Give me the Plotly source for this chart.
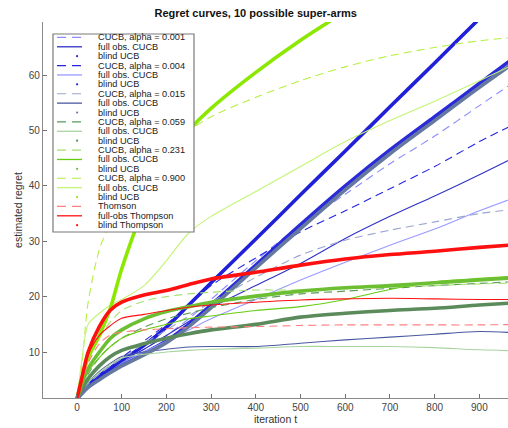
import plotly.graph_objects as go

# iteration grid shared by all curves
t = [0, 10, 25, 50, 75, 100, 150, 200, 250, 300, 400, 500, 600, 700, 800, 900, 1000]

# CUCB (dashed), full-observation CUCB (solid), blind UCB (dots) for each alpha
cucb_0001 = [1.5, 2.6, 3.8, 5.3, 6.6, 8.0, 10.5, 13.0, 16.0, 19.5, 26.5, 33.0, 38.5, 44.0, 49.0, 54.5, 60.0]
full_0001 = [1.5, 2.8, 4.3, 6.0, 7.3, 8.5, 10.5, 13.0, 15.5, 18.0, 22.0, 26.0, 30.5, 34.5, 38.2, 42.0, 46.0]
blind_0001 = [1.5, 2.5, 3.7, 5.2, 6.5, 7.8, 9.8, 12.0, 15.0, 18.5, 25.7, 33.0, 40.0, 46.5, 52.5, 58.5, 64.5]

cucb_0004 = [1.5, 2.8, 4.2, 6.0, 7.5, 9.0, 12.0, 15.0, 18.5, 22.0, 27.0, 31.7, 35.5, 39.5, 43.5, 48.0, 52.0]
full_0004 = [1.5, 2.8, 4.2, 5.8, 7.0, 8.0, 10.0, 12.0, 14.0, 16.0, 19.5, 23.0, 26.2, 29.3, 32.2, 35.5, 38.5]
blind_0004 = [1.5, 2.6, 4.0, 5.6, 7.1, 8.5, 11.2, 14.5, 18.5, 22.5, 30.4, 38.4, 46.3, 54.3, 62.2, 70.2, 78.1]

cucb_0015 = [1.5, 2.8, 4.2, 6.0, 7.5, 8.8, 11.5, 14.0, 16.5, 19.0, 23.5, 27.5, 30.2, 32.0, 33.5, 35.0, 36.0]
full_0015 = [1.5, 3.0, 4.5, 6.5, 8.0, 9.2, 10.0, 10.5, 10.9, 11.0, 11.0, 11.6, 12.2, 12.7, 13.2, 13.7, 13.4]
blind_0015 = [1.5, 2.4, 3.6, 5.0, 6.3, 7.5, 9.5, 11.7, 14.6, 18.0, 25.2, 32.3, 39.3, 45.8, 51.8, 57.8, 63.5]

cucb_0059 = [1.5, 3.5, 6.0, 9.0, 11.0, 12.5, 14.5, 16.0, 17.0, 18.0, 19.5, 20.5, 21.0, 21.5, 22.0, 22.4, 22.8]
full_0059 = [1.5, 3.0, 4.5, 6.3, 7.8, 8.9, 9.6, 10.0, 10.3, 10.5, 10.7, 11.0, 11.0, 11.0, 10.8, 10.4, 10.2]
blind_0059 = [1.5, 3.2, 5.2, 7.5, 9.2, 10.3, 11.5, 12.5, 13.3, 14.0, 15.0, 16.3, 17.0, 17.5, 17.9, 18.5, 19.0]

cucb_0231 = [1.5, 4.5, 8.5, 12.5, 15.5, 17.5, 19.2, 20.0, 20.5, 20.8, 21.2, 21.2, 21.4, 21.7, 22.0, 22.3, 22.5]
full_0231 = [1.5, 4.0, 6.5, 9.0, 11.0, 12.5, 14.0, 15.0, 16.0, 16.5, 17.5, 18.2, 19.5, 21.3, 22.7, 23.3, 23.8]
blind_0231 = [1.5, 4.0, 7.0, 10.0, 12.5, 14.0, 16.0, 17.3, 18.2, 19.0, 20.1, 21.0, 21.6, 22.0, 22.5, 23.0, 23.5]

cucb_0900 = [1.5, 7.0, 19.0, 28.5, 33.5, 37.5, 43.0, 47.0, 50.0, 52.5, 56.0, 59.0, 61.5, 63.5, 65.0, 66.2, 67.0]
full_0900 = [1.5, 8.0, 15.0, 17.0, 18.5, 19.5, 22.0, 26.5, 31.5, 34.5, 39.0, 43.5, 48.0, 51.8, 55.3, 59.0, 62.8]
blind_0900 = [1.5, 5.0, 9.0, 13.0, 18.0, 25.0, 36.0, 44.0, 50.0, 54.0, 60.5, 66.3, 71.5, 76.5, 81.5, 86.5, 91.5]

# Thompson sampling variants
thompson = [1.5, 4.5, 8.0, 11.5, 13.1, 13.6, 14.0, 14.2, 14.4, 14.5, 14.6, 14.8, 14.9, 14.9, 14.9, 14.9, 15.0]
full_thompson = [1.5, 5.0, 9.5, 13.0, 14.8, 16.1, 16.8, 17.5, 18.1, 18.5, 19.0, 19.4, 19.6, 19.7, 19.6, 19.5, 19.5]
blind_thompson = [1.5, 5.0, 10.0, 14.6, 17.6, 19.0, 20.3, 21.1, 22.2, 23.2, 24.4, 25.7, 26.8, 27.6, 28.2, 28.9, 29.5]

x_ticks = [0, 100, 200, 300, 400, 500, 600, 700, 800, 900]
y_ticks = [10, 20, 30, 40, 50, 60]

labels = [
    "CUCB, alpha = 0.001", "full obs. CUCB", "blind UCB",
    "CUCB, alpha = 0.004", "full obs. CUCB", "blind UCB",
    "CUCB, alpha = 0.015", "full obs. CUCB", "blind UCB",
    "CUCB, alpha = 0.059", "full obs. CUCB", "blind UCB",
    "CUCB, alpha = 0.231", "full obs. CUCB", "blind UCB",
    "CUCB, alpha = 0.900", "full obs. CUCB", "blind UCB",
    "Thomson", "full-obs Thompson", "blind Thompson",
]
series = [
    cucb_0001, full_0001, blind_0001,
    cucb_0004, full_0004, blind_0004,
    cucb_0015, full_0015, blind_0015,
    cucb_0059, full_0059, blind_0059,
    cucb_0231, full_0231, blind_0231,
    cucb_0900, full_0900, blind_0900,
    thompson, full_thompson, blind_thompson,
]
colors = [
    "#8c8cff", "#3030c8", "#2a2ad8",
    "#2525e0", "#9a9aff", "#2020d8",
    "#9aa6cf", "#4a5aa0", "#6478a0",
    "#5a9a5a", "#a8d4a0", "#5b8a5b",
    "#a6e070", "#66cc11", "#6cbf33",
    "#b4f040", "#c4f474", "#8ce800",
    "#ff8080", "#ff1010", "#ff1010",
]
kinds = ["dash", "solid", "dots"] * 7

fig = go.Figure()
for y, c, k in zip(series, colors, kinds):
    if k == "dash":
        line = dict(color=c, width=1.1, dash="8px,5px")
    elif k == "solid":
        line = dict(color=c, width=1.1)
    else:
        line = dict(color=c, width=3.6)
    line.update(shape="spline", smoothing=0.8)
    fig.add_trace(go.Scatter(x=t, y=y, mode="lines", line=line, showlegend=False,
                             hoverinfo="skip"))

W, H = 508, 428
L, R, T, B = 43, 0, 22, 30
PW, PH = W - L - R, H - T - B


def px(x):
    return (x - L) / PW


def py(y):
    return (H - B - y) / PH


# legend box drawn in pixel-based paper coordinates
shapes = [dict(type="rect", xref="paper", yref="paper",
               x0=px(53), x1=px(194), y0=py(232), y1=py(34),
               line=dict(color="#7a7a7a", width=1.2), fillcolor="white", layer="above")]
annotations = []
row0, step = 37.4, 9.39
for i, (lab, c, k) in enumerate(zip(labels, colors, kinds)):
    yy = row0 + i * step
    if k == "dots":
        shapes.append(dict(type="circle", xref="paper", yref="paper",
                           x0=px(76), x1=px(78.2), y0=py(yy + 1.1), y1=py(yy - 1.1),
                           fillcolor=c, line=dict(width=0), layer="above"))
    else:
        shapes.append(dict(type="line", xref="paper", yref="paper",
                           x0=px(57), x1=px(82), y0=py(yy), y1=py(yy), layer="above",
                           line=dict(color=c, width=1.3 if k == "solid" else 1.2,
                                     dash="solid" if k == "solid" else "9px,6px")))
    annotations.append(dict(xref="paper", yref="paper", x=px(95.5), y=py(yy),
                            xanchor="left", yanchor="middle", text=lab, showarrow=False,
                            font=dict(size=9.2, color="#222222")))

fig.update_layout(
    width=W, height=H,
    margin=dict(l=L, r=R, t=T, b=B),
    paper_bgcolor="white", plot_bgcolor="white",
    font=dict(family="Liberation Sans, Arial, sans-serif", size=10, color="#333333"),
    title=dict(text="<b>Regret curves, 10 possible super-arms</b>", x=px(277), xanchor="center",
               y=1 - 12.7 / H, yanchor="middle", font=dict(size=11, color="#111111")),
    xaxis=dict(range=[-76, 964], tickvals=x_ticks, ticks="inside", ticklen=4,
               tickcolor="#707070", showline=True, linecolor="#8a8a8a", linewidth=1.3,
               showgrid=False, zeroline=False, tickfont=dict(size=10, color="#444444"),
               title=dict(text="iteration t", standoff=1, font=dict(size=10.5, color="#333333"))),
    yaxis=dict(range=[1.7, 69.6], tickvals=y_ticks, ticks="inside", ticklen=4,
               tickcolor="#707070", showline=True, linecolor="#8a8a8a", linewidth=1.3,
               showgrid=False, zeroline=False, tickfont=dict(size=10, color="#444444"),
               title=dict(text="estimated regret", standoff=4, font=dict(size=10.5, color="#333333"))),
    shapes=shapes,
    annotations=annotations,
)

fig.write_html("out.html")
